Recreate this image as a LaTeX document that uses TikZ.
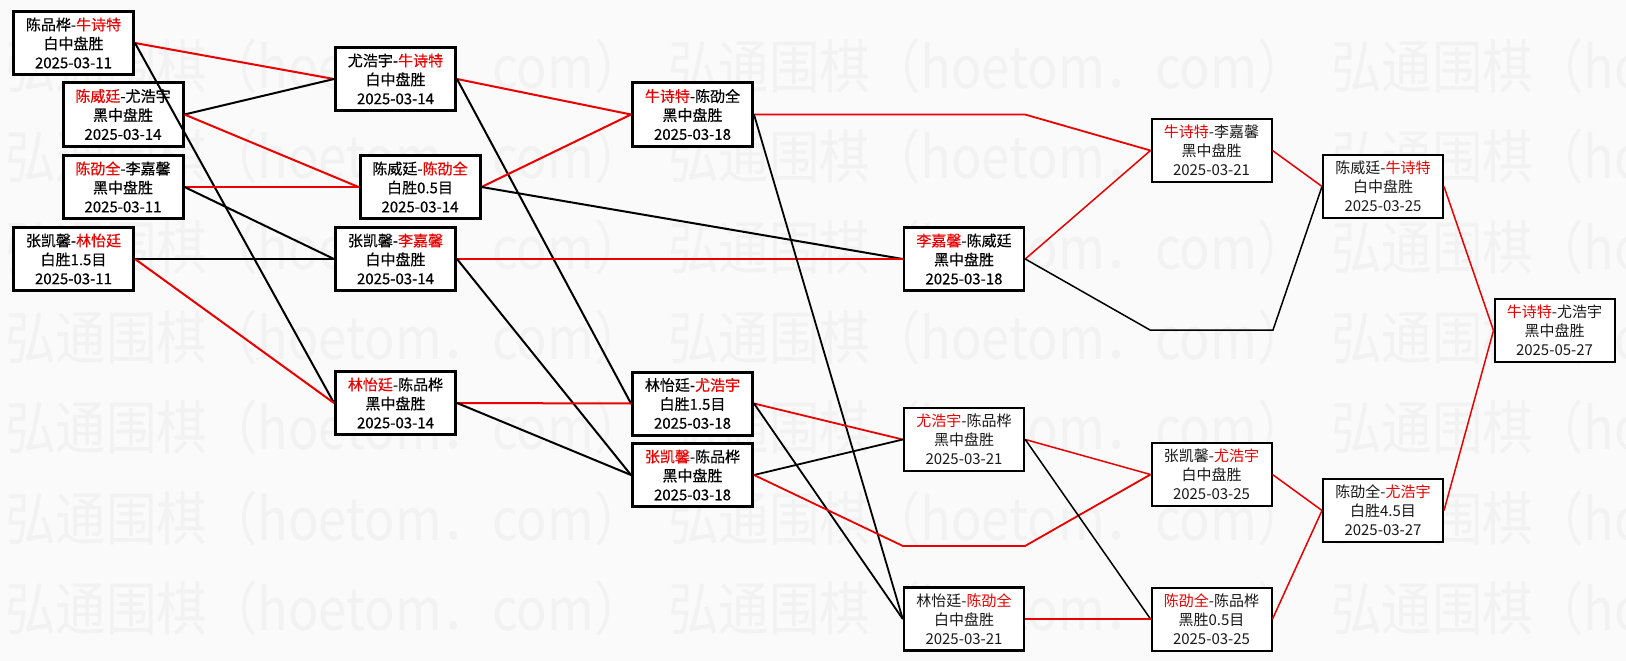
\documentclass[tikz,border=0pt]{standalone}
\usepackage{fontspec}
\setmainfont{Noto Sans CJK SC}
\newfontfamily\heavycjk[FakeBold=0.4]{Noto Sans CJK SC}
\definecolor{bg}{RGB}{250,250,250}
\definecolor{wm}{RGB}{242,242,242}
\definecolor{wred}{RGB}{235,0,0}
\definecolor{ink2}{RGB}{25,25,25}
\newcommand{\R}[1]{\textcolor{wred}{#1}}
\newcommand{\wmtext}{\scalebox{0.87}[1]{弘通围棋（hoetom．com）}}
\tikzset{
  game/.style={draw=black, rectangle, fill=white, inner sep=0pt, minimum width=120pt, minimum height=63pt, align=center, font=\fontsize{15}{19}\selectfont},
  gthick/.style={game, line width=3pt, font=\heavycjk\fontsize{15}{19}\selectfont},
  gthin/.style={game, line width=2pt, text=ink2},
  win/.style={draw=wred, line width=2pt},
  lose/.style={draw=black, line width=2pt},
  winthin/.style={draw=wred, line width=1.5pt},
  losethin/.style={draw=black, line width=1.5pt},
  wmark/.style={anchor=west, inner sep=0pt, text=wm, font=\fontsize{58}{58}\selectfont},
}
\begin{document}
\begin{tikzpicture}[x=1pt, y=-1pt]
\useasboundingbox (0,0) rectangle (1626,661);
\fill[bg] (0,0) rectangle (1626,661);
% watermark
\begin{scope}
\clip (0,0) rectangle (1626,661);
\foreach \yy [count=\i] in {66,156,247,337,427,518,608}{
  \foreach \xx [count=\j] in {5,668,1331}{
    \node[wmark] (wm\i\j) at (\xx,\yy) {\wmtext};
  }
}
\end{scope}
% column A
\node[gthick] (A1) at (73.5,43) {陈品桦-\R{牛诗特}\\白中盘胜\\2025-03-11};
\node[gthick] (A2) at (123,114.5) {\R{陈威廷}-尤浩宇\\黑中盘胜\\2025-03-14};
\node[gthick] (A3) at (123,187) {\R{陈劭全}-李嘉馨\\黑中盘胜\\2025-03-11};
\node[gthick] (A4) at (73.5,259) {张凯馨-\R{林怡廷}\\白胜1.5目\\2025-03-11};
% column B
\node[gthick] (B1) at (395.5,79) {尤浩宇-\R{牛诗特}\\白中盘胜\\2025-03-14};
\node[gthick] (B2) at (420,187) {陈威廷-\R{陈劭全}\\白胜0.5目\\2025-03-14};
\node[gthick] (B3) at (395.5,259) {张凯馨-\R{李嘉馨}\\白中盘胜\\2025-03-14};
\node[gthick] (B4) at (395.5,403) {\R{林怡廷}-陈品桦\\黑中盘胜\\2025-03-14};
% column C
\node[gthick] (C1) at (692.5,114.5) {\R{牛诗特}-陈劭全\\黑中盘胜\\2025-03-18};
\node[gthick] (C3) at (692.5,403.5) {林怡廷-\R{尤浩宇}\\白胜1.5目\\2025-03-18};
\node[gthick] (C4) at (692.5,475) {\R{张凯馨}-陈品桦\\黑中盘胜\\2025-03-18};
% column D
\node[gthick, line width=2.5pt] (D1) at (964,259) {\R{李嘉馨}-陈威廷\\黑中盘胜\\2025-03-18};
\node[gthin, line width=2.5pt] (D2) at (964,439.5) {\R{尤浩宇}-陈品桦\\黑中盘胜\\2025-03-21};
\node[gthin, line width=2.5pt] (D3) at (964,619) {林怡廷-\R{陈劭全}\\白中盘胜\\2025-03-21};
% column E
\node[gthin] (E1) at (1211.5,150.5) {\R{牛诗特}-李嘉馨\\黑中盘胜\\2025-03-21};
\node[gthin] (E2) at (1211.5,474.5) {张凯馨-\R{尤浩宇}\\白中盘胜\\2025-03-25};
\node[gthin] (E3) at (1211.5,619) {\R{陈劭全}-陈品桦\\黑胜0.5目\\2025-03-25};
% column F
\node[gthin] (F1) at (1383,186.5) {陈威廷-\R{牛诗特}\\白中盘胜\\2025-03-25};
\node[gthin] (F2) at (1383,510.5) {陈劭全-\R{尤浩宇}\\白胜4.5目\\2025-03-27};
% final
\node[gthin] (G) at (1554.5,330.5) {\R{牛诗特}-尤浩宇\\黑中盘胜\\2025-05-27};
% route points
\coordinate (r1) at (903,546);
\coordinate (r2) at (1025,546);
\coordinate (r3) at (1150,330);
\coordinate (r4) at (1273,330);
\coordinate (r5) at (1025,114.5);
% connectors A -> B
\draw[win] (A1.east) -- (B1.west);
\draw[lose] (A1.east) -- (B4.west);
\draw[lose] (A2.east) -- (B1.west);
\draw[win] (A2.east) -- (B2.west);
\draw[win] (A3.east) -- (B2.west);
\draw[lose] (A3.east) -- (B3.west);
\draw[lose] (A4.east) -- (B3.west);
\draw[win] (A4.east) -- (B4.west);
% B -> C/D
\draw[win] (B1.east) -- (C1.west);
\draw[lose] (B1.east) -- (C3.west);
\draw[win] (B2.east) -- (C1.west);
\draw[lose] (B2.east) -- (D1.west);
\draw[win] (B3.east) -- (D1.west);
\draw[lose] (B3.east) -- (C4.west);
\draw[win] (B4.east) -- (C3.west);
\draw[lose] (B4.east) -- (C4.west);
% C -> D/E
\draw[winthin, line width=1.8pt] (C1.east) -- (r5) -- (E1.west);
\draw[losethin, line width=1.8pt] (C1.east) -- (D3.west);
\draw[winthin, line width=1.8pt] (C3.east) -- (D2.west);
\draw[losethin, line width=1.8pt] (C3.east) -- (D3.west);
\draw[losethin, line width=1.8pt] (C4.east) -- (D2.west);
\draw[winthin, line width=1.8pt] (C4.east) -- (r1) -- (r2) -- (E2.west);
% D -> E/F
\draw[winthin] (D1.east) -- (E1.west);
\draw[losethin] (D1.east) -- (r3) -- (r4) -- (F1.west);
\draw[winthin] (D2.east) -- (E2.west);
\draw[losethin] (D2.east) -- (E3.west);
\draw[winthin] (D3.east) -- (E3.west);
% E -> F
\draw[winthin] (E1.east) -- (F1.west);
\draw[winthin] (E2.east) -- (F2.west);
\draw[winthin] (E3.east) -- (F2.west);
% F -> G
\draw[winthin] (F1.east) -- (G.west);
\draw[winthin] (F2.east) -- (G.west);
\end{tikzpicture}
\end{document}
